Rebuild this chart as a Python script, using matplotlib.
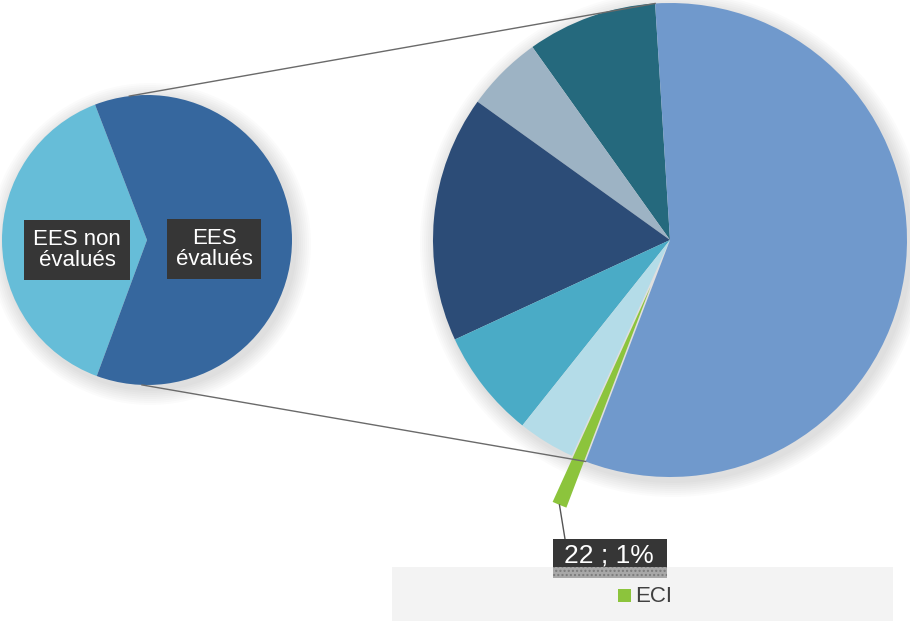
# Pie of pie: EES evaluated / not evaluated, with breakdown of the evaluated part.

import numpy as np
import matplotlib.pyplot as plt
from matplotlib.patches import Circle, Rectangle

plt.rcParams['font.family'] = ['Liberation Sans', 'DejaVu Sans']
plt.rcParams['hatch.color'] = '#7a7a7a'

# left pie
left_labels = ["EES non\névalués", "EES\névalués"]
left_values = [1380, 2201]
left_colors = ["#66bdd8", "#36679e"]

# right pie (breakdown of "EES évalués")
right_values = [195, 115, 370, 163, 86, 22, 1250]
right_colors = ["#25697d", "#9db3c4", "#2c4c77", "#4aabc6", "#b4dce8", "#8cc43c", "#7099cc"]
eci_index = 5
eci_label = "22 ; 1%"
legend_label = "ECI"

W, H = 910, 621
fig = plt.figure(figsize=(W / 100, H / 100), dpi=100)
ax = fig.add_axes([0, 0, 1, 1])

lc, lr = (147, 381), 145
rc, rr = (670, 381), 237
eci_offset = 50

# soft shadows
for (c, r) in [(lc, lr), (rc, rr)]:
    for k in range(8):
        ax.add_patch(Circle((c[0] + 3, c[1] - 4), r + 2 + k * 2, color="#000000",
                            alpha=0.016, lw=0, zorder=0))

left_start = 111
ax.pie(left_values, colors=left_colors, startangle=left_start, counterclock=True,
       center=lc, radius=lr, wedgeprops=dict(lw=0), frame=True)

right_start = 93.6
explode = [eci_offset if i == eci_index else 0 for i in range(len(right_values))]
ax.pie(right_values, colors=right_colors, startangle=right_start, counterclock=True,
       center=rc, radius=rr, explode=explode, wedgeprops=dict(lw=0), frame=True)
ax.set_xlim(0, W)
ax.set_ylim(0, H)
ax.set_aspect('equal')
ax.axis('off')

# connector lines between the two pies
rv = np.array(right_values, dtype=float)
big_end = right_start + 360.0
big_start = right_start + 360.0 * rv[:-1].sum() / rv.sum()
for la, ra in [(97, big_end), (268, big_start)]:
    x0 = lc[0] + lr * np.cos(np.radians(la))
    y0 = lc[1] + lr * np.sin(np.radians(la))
    x1 = rc[0] + rr * np.cos(np.radians(ra))
    y1 = rc[1] + rr * np.sin(np.radians(ra))
    ax.plot([x0, x1], [y0, y1], color="#6a6a6a", lw=1, zorder=1)

# labels on left pie
box = dict(boxstyle="square,pad=0.4", fc="#363636", ec="none")
ax.text(77, 371, left_labels[0], ha='center', va='center', color='white',
        fontsize=16, linespacing=1.05, bbox=box, zorder=5)
ax.text(214, 372, left_labels[1], ha='center', va='center', color='white',
        fontsize=16, linespacing=1.05, bbox=box, zorder=5)

# ECI data label with leader line
eci_mid = right_start + 360.0 * (rv[:eci_index].sum() + rv[eci_index] / 2) / rv.sum()
tip_r = rr + eci_offset
tx = rc[0] + tip_r * np.cos(np.radians(eci_mid))
ty = rc[1] + tip_r * np.sin(np.radians(eci_mid))
ax.plot([tx, 565], [ty, 82], color="#555555", lw=1, zorder=4)

# legend band
ax.add_patch(Rectangle((392, 0), 501, 54, color="#f3f3f3", lw=0, zorder=1))

ax.add_patch(Rectangle((553, 54), 114, 28, color="#363636", lw=0, zorder=5))
ax.add_patch(Rectangle((553, 43), 114, 11, fc="#a8a8a8", hatch="....", lw=0, zorder=5))
ax.text(609, 65, eci_label, ha='center', va='center', color='white', fontsize=19, zorder=6)

# legend
ax.add_patch(Rectangle((618, 19), 13, 13, color=right_colors[eci_index], lw=0, zorder=5))
ax.text(635, 25, legend_label, ha='left', va='center', color="#404040", fontsize=16, zorder=5)

fig.savefig("out.png", dpi=100)
